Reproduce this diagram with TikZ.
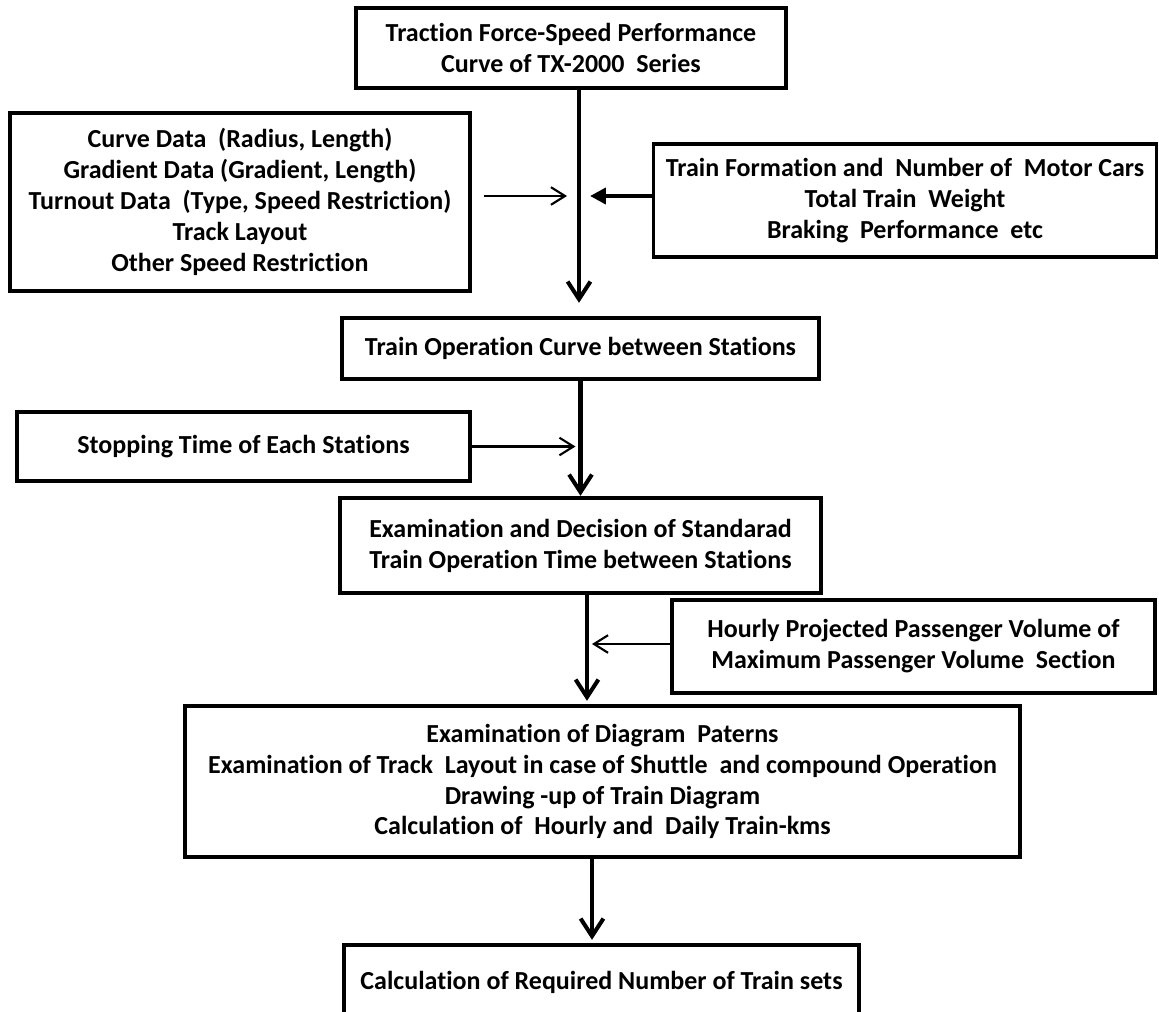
\documentclass[tikz,border=0pt]{standalone}
\usepackage{fontspec}
\setmainfont{Carlito}[Ligatures=NoCommon]
\usetikzlibrary{arrows.meta}

\begin{document}
\begin{tikzpicture}[x=0.02cm,y=-0.02cm,
  box/.style={draw,line width=1.8pt,align=center,inner sep=0pt,
    font=\bfseries\fontsize{14.8}{17.6}\selectfont},
  heavybox/.style={box,line width=2.5pt},
  mainarrow/.style={line width=2.3pt,-{Straight Barb[length=10pt,width=13pt]}},
  thinarrow/.style={line width=1.2pt,-{Straight Barb[length=8pt,width=10pt]}},
  thickarrow/.style={line width=2.3pt,-{Triangle[length=9pt,width=9pt]}}]
  \useasboundingbox (0,0) rectangle (1159,1011);
  \node[box,minimum width=8.6cm,minimum height=1.6cm] (perf) at (571,48)
    {Traction Force-Speed Performance\\Curve of TX-2000\ \ Series};
  \node[box,minimum width=9.2cm,minimum height=3.56cm] (track) at (240,202)
    {Curve Data\ \ (Radius, Length)\\Gradient Data (Gradient, Length)\\Turnout Data\ \ (Type, Speed Restriction)\\Track Layout\\Other Speed Restriction};
  \node[box,minimum width=10.06cm,minimum height=2.26cm] (train) at (905,200.5)
    {Train Formation and\ \ Number of\ \ Motor Cars\\Total Train\ \ Weight\\Braking\ \ Performance\ \ etc};
  \node[heavybox,minimum width=9.54cm,minimum height=1.22cm] (opcurve) at (580.5,348.5)
    {Train Operation Curve between Stations};
  \node[heavybox,minimum width=9.06cm,minimum height=1.38cm] (stop) at (243.5,446.5)
    {Stopping Time of Each Stations};
  \node[heavybox,minimum width=9.62cm,minimum height=1.9cm] (exam) at (580.5,545.5)
    {Examination and Decision of Standarad\\Train Operation Time between Stations};
  \node[heavybox,minimum width=9.66cm,minimum height=1.86cm] (hourly) at (913.5,646.5)
    {Hourly Projected Passenger Volume of\\Maximum Passenger Volume\ \ Section};
  \node[heavybox,minimum width=16.7cm,minimum height=3.02cm] (diagram) at (602.5,781.5)
    {Examination of Diagram\ \ Paterns\\Examination of Track\ \ Layout in case of Shuttle\ \ and compound Operation\\Drawing -up of Train Diagram\\Calculation of\ \ Hourly and\ \ Daily Train-kms};
  \node[heavybox,minimum width=10.3cm,minimum height=1.48cm] (trainsets) at (601.5,982)
    {Calculation of Required Number of Train sets};
  \coordinate (j1) at (579,196);
  \coordinate (j3) at (587,644);
  \coordinate (j4) at (592,900);
  \draw[mainarrow,shorten >=0.26cm] (perf.south -| j1) -- (opcurve.north -| j1);
  \draw[thinarrow,shorten <=0.24cm,shorten >=0.24cm] (track.east |- j1) -- (j1);
  \draw[thickarrow,shorten >=0.22cm] (train.west |- j1) -- (j1);
  \draw[mainarrow] (opcurve.south) -- (exam.north);
  \draw[thinarrow,shorten >=0.1cm] (stop.east) -- (stop.east -| opcurve.south);
  \draw[mainarrow,shorten >=0.06cm] (exam.south -| j3) -- (diagram.north -| j3);
  \draw[thinarrow,shorten >=0.1cm] (hourly.west |- j3) -- (j3);
  \draw[mainarrow,shorten >=0.06cm] (diagram.south -| j4) -- (trainsets.north -| j4);
\end{tikzpicture}
\end{document}
